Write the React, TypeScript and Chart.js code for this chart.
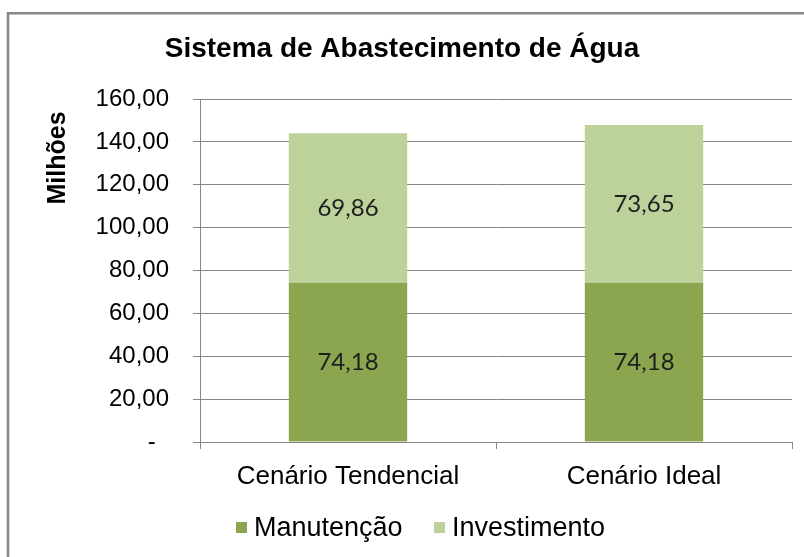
import React, { useEffect, useRef } from "react";
import { Chart, registerables } from "chart.js";

Chart.register(...registerables);

const categories = ["Cenário Tendencial", "Cenário Ideal"];
const manutencao = [74.18, 74.18];
const investimento = [69.86, 73.65];
const seriesNames = ["Manutenção", "Investimento"];
const yTicks = [0, 20, 40, 60, 80, 100, 120, 140, 160];
const chartTitle = "Sistema de Abastecimento de Água";
const yTitle = "Milhões";

const DARK = "#8BA64F";
const LIGHT = "#BDD19A";
const SANS = "'Liberation Sans', Arial, sans-serif";

const fmt = (v: number) => v.toFixed(2).replace(".", ",");

const decorPlugin = {
  id: "decor",
  beforeDraw(chart: any) {
    const ctx = chart.ctx;
    ctx.save();
    ctx.fillStyle = "#fff";
    ctx.fillRect(0, 0, chart.width, chart.height);
    ctx.strokeStyle = "#868686";
    ctx.lineWidth = 2.5;
    ctx.strokeRect(8, 13.25, 900, 700);
    ctx.restore();
  },
  afterDraw(chart: any) {
    const ctx = chart.ctx;
    ctx.save();
    // title
    ctx.fillStyle = "#000";
    ctx.font = `bold 28px ${SANS}`;
    ctx.textAlign = "center";
    ctx.textBaseline = "alphabetic";
    ctx.fillText(chartTitle, 402, 57);
    // y title
    ctx.save();
    ctx.translate(58, 158);
    ctx.rotate(-Math.PI / 2);
    ctx.font = `bold 25px ${SANS}`;
    ctx.textBaseline = "middle";
    ctx.textAlign = "center";
    ctx.fillText(yTitle, 0, 0);
    ctx.restore();
    // data labels
    ctx.font = `24px Lato, 'Open Sans', sans-serif`;
    ctx.fillStyle = "#1f1f1f";
    ctx.textAlign = "center";
    ctx.textBaseline = "middle";
    chart.data.datasets.forEach((ds: any, di: number) => {
      const meta = chart.getDatasetMeta(di);
      meta.data.forEach((bar: any, i: number) => {
        const v = ds.data[i];
        const y = (bar.y + bar.base) / 2;
        ctx.fillText(fmt(v), bar.x, y);
      });
    });
    // legend
    const legendX = [236, 434];
    ctx.font = `27px ${SANS}`;
    ctx.textAlign = "left";
    ctx.textBaseline = "middle";
    chart.data.datasets.forEach((ds: any, di: number) => {
      const x = legendX[di];
      ctx.fillStyle = ds.backgroundColor;
      ctx.fillRect(x, 522, 11, 11);
      ctx.fillStyle = "#000";
      ctx.fillText(ds.label, x + 18, 529);
    });
    ctx.restore();
  },
};

export default function App() {
  const ref = useRef<HTMLCanvasElement | null>(null);
  useEffect(() => {
    if (!ref.current) return;
    const chart = new Chart(ref.current, {
      type: "bar",
      data: {
        labels: categories,
        datasets: [
          {
            label: seriesNames[0],
            data: manutencao,
            backgroundColor: DARK,
            barPercentage: 0.4,
            categoryPercentage: 1,
          },
          {
            label: seriesNames[1],
            data: investimento,
            backgroundColor: LIGHT,
            barPercentage: 0.4,
            categoryPercentage: 1,
          },
        ],
      },
      options: {
        responsive: false,
        animation: false,
        devicePixelRatio: 1,
        layout: { padding: { left: 0, right: 12, top: 99, bottom: 0 } },
        plugins: {
          legend: { display: false },
          title: { display: false },
          tooltip: { enabled: false },
        },
        scales: {
          x: {
            stacked: true,
            afterFit: (s: any) => {
              s.height = 115;
            },
            grid: {
              offset: true,
              drawOnChartArea: false,
              drawTicks: true,
              tickLength: 7,
              color: "#868686",
            },
            border: { color: "#868686", width: 1 },
            ticks: {
              color: "#000",
              padding: 12,
              font: { family: SANS, size: 26 },
            },
          },
          y: {
            stacked: true,
            min: 0,
            max: 160,
            afterFit: (s: any) => {
              s.width = 200;
            },
            afterBuildTicks: (s: any) => {
              s.ticks = yTicks.map((v) => ({ value: v }));
            },
            grid: {
              color: "#868686",
              tickLength: 7,
              drawTicks: true,
            },
            border: { color: "#868686", width: 1 },
            ticks: {
              color: "#000",
              padding: 24,
              font: { family: SANS, size: 24 },
              callback: (v: any) => (Number(v) === 0 ? "-  " : fmt(Number(v))),
            },
          },
        },
      },
      plugins: [decorPlugin],
    });
    return () => chart.destroy();
  }, []);
  return (
    <div style={{ position: "fixed", left: 0, top: 0, width: 804, height: 557, background: "#fff" }}>
      <canvas ref={ref} width={804} height={557} style={{ display: "block" }} />
    </div>
  );
}
